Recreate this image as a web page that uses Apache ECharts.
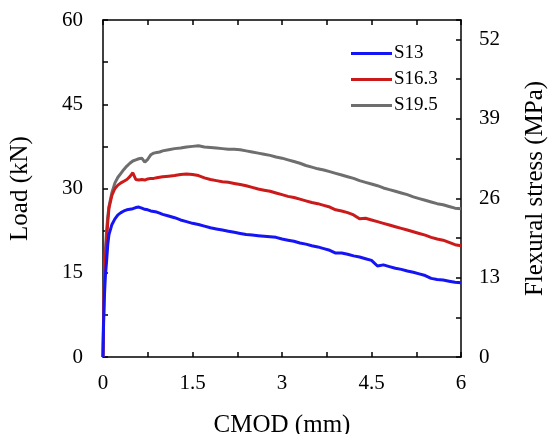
<!DOCTYPE html>
<html>
<head>
<meta charset="utf-8">
<script src="https://cdn.jsdelivr.net/npm/echarts@6/dist/echarts.min.js"></script>
<style>html,body{margin:0;padding:0;background:#fff}#c{width:553px;height:434px}</style>
</head>
<body>
<div id="c"></div>
<script>
const cmod = [0,0.01,0.02,0.04,0.06,0.08,0.1,0.15,0.2,0.25,0.3,0.35,0.4,0.45,0.5,0.55,0.6,0.65,0.7,0.75,0.8,0.85,0.9,0.95,1.0,
1.1,1.2,1.3,1.4,1.5,1.6,1.7,1.8,1.9,2.0,2.1,2.2,2.3,2.4,2.5,2.6,2.7,2.8,2.9,3.0,3.1,3.2,3.3,3.4,3.5,3.6,3.7,3.8,3.9,4.0,
4.1,4.2,4.3,4.4,4.5,4.6,4.7,4.8,4.9,5.0,5.1,5.2,5.3,5.4,5.5,5.6,5.7,5.8,5.9,6.0];
const s13 = [0,6,10,14.5,17,20,21.8,23.6,24.6,25.3,25.7,26,26.2,26.3,26.4,26.6,26.7,26.5,26.3,26.2,26,25.9,25.8,25.6,25.4,
25.1,24.8,24.4,24.1,23.8,23.6,23.3,23.0,22.8,22.6,22.4,22.2,22.0,21.8,21.7,21.6,21.5,21.4,21.3,21.0,20.8,20.6,20.3,20.1,19.8,19.6,19.3,19.0,18.5,18.5,
18.3,18.0,17.8,17.5,17.2,16.2,16.4,16.1,15.8,15.6,15.3,15.1,14.8,14.5,14.0,13.8,13.7,13.5,13.3,13.2];
const s163 = [0,7,12,17.5,21,24,26.5,28.8,30,30.6,31,31.3,31.6,32.1,32.8,31.6,31.5,31.6,31.5,31.7,31.8,31.8,31.9,32,32.1,
32.2,32.3,32.5,32.6,32.5,32.3,31.9,31.6,31.4,31.2,31.1,30.9,30.7,30.5,30.2,29.9,29.7,29.5,29.2,28.9,28.6,28.4,28.1,27.8,27.5,27.3,27.0,26.7,26.2,26.0,
25.7,25.3,24.6,24.7,24.4,24.1,23.8,23.5,23.2,22.9,22.6,22.3,22.0,21.7,21.3,21.0,20.8,20.4,20.0,19.8];
const s195 = [0,8,13,19,22.5,25,26.8,29.3,31,32,32.7,33.4,34,34.5,34.9,35.1,35.3,35.4,34.7,35.2,36,36.3,36.4,36.5,36.7,
36.9,37.1,37.2,37.4,37.5,37.6,37.4,37.3,37.2,37.1,37.0,37.0,36.9,36.7,36.5,36.3,36.1,35.9,35.6,35.4,35.1,34.8,34.5,34.1,33.8,33.5,33.3,33.0,32.7,32.4,
32.1,31.8,31.4,31.1,30.8,30.5,30.1,29.8,29.5,29.2,28.9,28.5,28.2,27.9,27.6,27.3,27.1,26.8,26.5,26.4];
const seriesNames = ['S13','S16.3','S19.5'];
const xTicks = [0,1.5,3,4.5,6];
const yTicks = [0,15,30,45,60];
const yRightTicks = [0,13,26,39,52];

const FONT = 'Liberation Serif';
const axisLine = {show:true, onZero:false, lineStyle:{color:'#000', width:1.5}};
const tick = {show:true, inside:true, length:5, lineStyle:{color:'#000', width:1.5}};
const minor = {show:true, splitNumber:2, length:5, lineStyle:{color:'#000', width:1.5}};
const lbl = {color:'#000', fontFamily:FONT, fontSize:21};

const zip = (xs, ys) => xs.map((x,i)=>[x, ys[i]]);
const chart = echarts.init(document.getElementById('c'), null, {renderer:'canvas'});
chart.setOption({
  animation:false,
  backgroundColor:'#fff',
  grid:{left:103, right:92, top:20, bottom:77, containLabel:false, outerBoundsMode:'none'},
  legend:{
    orient:'vertical', left:346, top:39, itemWidth:41, itemHeight:3, itemGap:7, icon:'rect',
    textStyle:{color:'#000', fontFamily:FONT, fontSize:19, padding:[0,0,0,-3]},
    data:seriesNames
  },
  xAxis:[
    {type:'value', min:0, max:6, interval:1.5, position:'bottom',
     axisLine, axisTick:tick, minorTick:minor, splitLine:{show:false},
     axisLabel:{...lbl, margin:16, formatter:v=>xTicks.includes(v)?String(v):''},
     name:'CMOD (mm)', nameLocation:'middle', nameGap:56,
     nameTextStyle:{color:'#000', fontFamily:FONT, fontSize:25}},
    {type:'value', min:0, max:6, interval:1.5, position:'top',
     axisLine, axisTick:tick, minorTick:minor, splitLine:{show:false}, axisLabel:{show:false}}
  ],
  yAxis:[
    {type:'value', min:0, max:60, interval:15, position:'left',
     axisLine, axisTick:tick, minorTick:minor, splitLine:{show:false},
     axisLabel:{...lbl, margin:20, formatter:v=>yTicks.includes(v)?String(v):''},
     name:'Load (kN)', nameLocation:'middle', nameGap:70, nameRotate:90,
     nameTextStyle:{color:'#000', fontFamily:FONT, fontSize:25}},
    {type:'value', min:0, max:55.2, interval:13, position:'right',
     axisLine, axisTick:tick, minorTick:minor, splitLine:{show:false},
     axisLabel:{...lbl, margin:18, showMaxLabel:false, formatter:v=>yRightTicks.includes(v)?String(v):''},
     name:'Flexural stress (MPa)', nameLocation:'middle', nameGap:62, nameRotate:90,
     nameTextStyle:{color:'#000', fontFamily:FONT, fontSize:25}}
  ],
  series:[
    {name:seriesNames[0], type:'line', data:zip(cmod,s13), showSymbol:false, symbol:'none', color:'#1414f5', lineStyle:{width:3, color:'#1414f5'}, z:3},
    {name:seriesNames[1], type:'line', data:zip(cmod,s163), showSymbol:false, symbol:'none', color:'#cc1a1a', lineStyle:{width:3, color:'#cc1a1a'}, z:2},
    {name:seriesNames[2], type:'line', data:zip(cmod,s195), showSymbol:false, symbol:'none', color:'#6e6e6e', lineStyle:{width:3, color:'#6e6e6e'}, z:1}
  ]
});
</script>
</body>
</html>
